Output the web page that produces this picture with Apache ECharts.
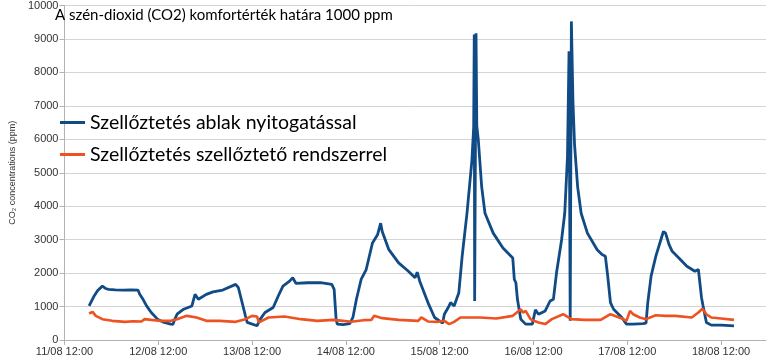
<!DOCTYPE html>
<html>
<head>
<meta charset="utf-8">
<script src="https://cdn.jsdelivr.net/npm/echarts@6/dist/echarts.min.js"></script>
<style>html,body{margin:0;padding:0;background:#fff}#c{width:768px;height:357px}</style>
</head>
<body>
<div id="c"></div>
<script>
// hours after 11/08 12:00
const tickLabels = ['11/08 12:00','12/08 12:00','13/08 12:00','14/08 12:00','15/08 12:00','16/08 12:00','17/08 12:00','18/08 12:00'];
const yTicks = [0,1000,2000,3000,4000,5000,6000,7000,8000,9000,10000];
const titleText = 'A szén-dioxid (CO2) komfortérték határa 1000 ppm';
const yAxisName = 'CO\u2082 concentrations (ppm)';
const seriesNames = ['Szellőztetés ablak nyitogatással', 'Szellőztetés szellőztető rendszerrel'];

const windowHours = [6.3,7.5,8.5,9.7,10.5,11.3,13,15,17,18.8,19.25,20.1,21,22.2,23.8,25.5,27.2,27.75,28.3,28.8,30.5,32.6,33.4,34.25,36.3,38,40.5,43.8,44.5,46.3,46.75,49.25,50.1,51.3,53.4,54.7,55.9,57.6,58.4,59.25,62.2,65.5,68.4,69,69.5,69.8,71.3,73,73.8,74.7,75.9,77.2,78.8,80.1,80.9,81.3,83,85.5,88,89.7,90.25,90.9,93,94.7,96.75,97.2,98.4,98.8,99.7,100.9,101.75,103,104.25,104.7,104.85,104.95,105.3,105.5,105.9,106.75,107.6,109.7,112.2,114.7,115.1,115.5,115.9,116.75,118,119.7,120.5,121.3,123,124.25,125.1,125.9,127.2,128,128.7,129.1,129.4,129.7,130.1,130.5,131.3,132.2,133.8,136.3,137.6,138.4,139,139.7,140.5,142.6,143.8,145.5,148,148.8,149.25,150.1,151.3,152.6,153.25,153.8,154.7,155.5,157.2,159.25,161.3,162.2,162.6,163,163.4,164.25,165.5,168,171.3];
const windowValues = [1017,1300,1480,1611,1540,1513,1500,1490,1500,1493,1365,1217,1020,822,623,525,475,470,640,771,920,1018,1365,1217,1365,1440,1493,1662,1563,722,525,425,623,822,970,1315,1611,1760,1860,1691,1712,1712,1662,1513,623,475,460,490,673,1217,1810,2107,2899,3145,3492,3243,2700,2306,2056,1860,2027,1760,1118,673,504,771,1018,1118,1018,1414,2500,3800,5371,6360,9130,1166,9170,6400,5964,4579,3789,3195,2751,2454,1810,1712,1217,623,475,475,900,771,870,1166,1217,2009,2997,3789,5470,8635,573,9525,7151,5866,4579,3789,3195,2700,2552,2501,1908,1118,920,673,475,475,490,504,1118,1908,2501,2997,3243,3195,2849,2650,2454,2205,2056,2107,2056,1266,1018,525,445,445,425];

const systemHours = [6.3,7.2,8,9.7,12.2,15.5,17.5,19.7,20.5,22.2,24.7,27.2,28.8,31.3,33.8,36.3,39.7,43.8,46.3,48,49.25,49.8,50.5,52.2,56.3,60.5,64.7,68.8,71.3,73.4,76.5,78.5,79.25,81.3,85.5,90.5,91.3,93,95.5,97.2,98.4,99.7,101.3,103,106.3,110.5,114.7,115.5,116.75,117.3,118,119.25,120.1,121.3,123,124.7,127.6,129.7,133,137.2,139.7,142.6,143.8,144.7,145.5,147.2,148.8,151.3,153.8,156.3,160.5,162.2,163.2,164.25,165.5,168,171.3];
const systemValues = [791,841,722,623,573,543,560,554,623,602,573,573,623,722,673,573,573,543,623,722,702,525,573,673,702,623,573,602,573,543,593,600,722,653,602,573,673,554,543,573,475,543,673,673,673,643,722,801,920,822,870,623,573,525,475,623,771,623,602,602,771,643,573,870,771,673,623,741,722,722,673,822,940,771,673,643,602];

const zip = (a, b) => a.map((h, i) => [h, b[i]]);
const chart = echarts.init(document.getElementById('c'), null, {renderer: 'canvas'});
const labelFont = 'Liberation Sans';
chart.setOption({
  animation: false,
  backgroundColor: '#fff',
  title: {
    text: titleText, left: 50, top: 3,
    textStyle: {fontFamily: 'Lato', fontSize: 15, fontWeight: 'normal', color: '#000'}
  },
  legend: {
    orient: 'vertical', left: 60, top: 112, itemGap: 11, padding: 0,
    itemWidth: 25, itemHeight: 3, icon: 'rect',
    textStyle: {fontFamily: 'Lato', fontSize: 19.5, color: '#000', lineHeight: 21},
    data: seriesNames
  },
  grid: {left: 48, right: 2, top: 4, bottom: 16},
  xAxis: {
    type: 'value', min: 0, max: 179.5, interval: 24,
    axisLine: {lineStyle: {color: '#b3b3b3'}},
    axisTick: {show: true, length: 5, lineStyle: {color: '#b3b3b3'}, customValues: tickLabels.map((t, i) => i * 24)},
    axisLabel: {customValues: tickLabels.map((t, i) => i * 24), formatter: v => tickLabels[Math.round(v / 24)] || '', color: '#333', fontSize: 11, fontFamily: labelFont, margin: 6},
    splitLine: {show: false}
  },
  yAxis: {
    type: 'value', min: yTicks[0], max: yTicks[yTicks.length - 1], interval: 1000,
    name: yAxisName, nameLocation: 'middle', nameGap: 44, nameRotate: 90,
    nameTextStyle: {fontFamily: labelFont, fontSize: 9, color: '#333'},
    axisLine: {show: true, lineStyle: {color: '#b3b3b3'}},
    axisTick: {show: true, length: 5, lineStyle: {color: '#b3b3b3'}},
    axisLabel: {color: '#333', fontSize: 11, fontFamily: labelFont, margin: 6, formatter: v => String(v)},
    splitLine: {lineStyle: {color: '#d4d4d4', width: 1}}
  },
  series: [
    {name: seriesNames[0], type: 'line', data: zip(windowHours, windowValues), showSymbol: false, symbol: 'none',
     lineStyle: {color: '#104b86', width: 2.8}, itemStyle: {color: '#104b86'}},
    {name: seriesNames[1], type: 'line', data: zip(systemHours, systemValues), showSymbol: false, symbol: 'none',
     lineStyle: {color: '#ee5220', width: 2.6}, itemStyle: {color: '#ee5220'}}
  ]
});
</script>
</body>
</html>
